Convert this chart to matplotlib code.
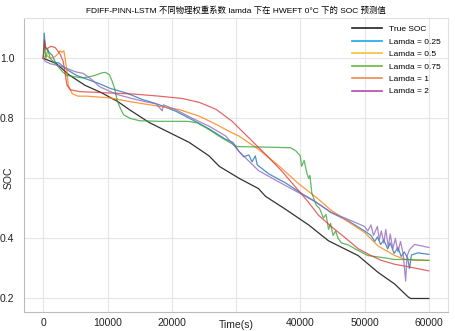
import matplotlib
matplotlib.use("Agg")
import matplotlib.pyplot as plt
from matplotlib.lines import Line2D

plt.rcParams['font.family'] = ['Liberation Sans', 'Noto Sans CJK SC', 'DejaVu Sans']

# data
true_x = [0, 2000, 4000, 6500, 9000, 11600, 13400, 16500, 19600, 22700, 25800, 27400,
          30500, 33500, 34600, 37500, 41300, 44400, 45900, 49000, 52100, 54700, 56800,
          57200, 60000]
true_y = [1.0, 0.983, 0.945, 0.91, 0.886, 0.856, 0.829, 0.786, 0.753, 0.72, 0.675, 0.64,
          0.6, 0.566, 0.54, 0.5, 0.445, 0.392, 0.376, 0.343, 0.287, 0.248, 0.205,
          0.2, 0.2]

l025_x = [0, 150, 300, 600, 900, 1400, 1900, 2400, 3700, 5200, 6200, 8800, 10400, 13000,
          15500, 16500, 18100, 20700, 23200, 25800, 28400, 29500, 30450, 31200, 32000,
          32500, 33000, 33300, 35100, 37700, 40200, 42300, 44800, 47500, 50000, 51000,
          51600, 52000, 52500, 53000, 53600, 54000, 54600, 55200, 55700, 56200, 56700,
          57000, 57300, 58300, 60000]
l025_y = [1.0, 1.084, 1.04, 1.03, 1.02, 1.01, 0.986, 0.985, 0.962, 0.943, 0.935, 0.915,
          0.9, 0.884, 0.862, 0.856, 0.845, 0.823, 0.795, 0.765, 0.73, 0.72, 0.69, 0.672,
          0.678, 0.655, 0.675, 0.645, 0.615, 0.585, 0.55, 0.523, 0.486, 0.458, 0.425, 0.41,
          0.39, 0.405, 0.38, 0.395, 0.365, 0.385, 0.35, 0.37, 0.34, 0.355, 0.335,
          0.30, 0.345, 0.352, 0.347]

l05_x = [0, 500, 1080, 1800, 2300, 2600, 2900, 3200, 3400, 3700, 3900, 4500, 5400, 6800,
         10400, 13400, 16000, 18100, 21200, 24300, 26900, 28900, 30450, 33500, 36600,
         39700, 42300, 44800, 47500, 50000, 52100, 54700, 56300, 58000, 60000]
l05_y = [1.0, 1.01, 1.0, 1.005, 1.015, 1.025, 1.02, 1.025, 1.0, 0.953, 0.91, 0.882, 0.874,
         0.874, 0.868, 0.856, 0.847, 0.84, 0.829, 0.807, 0.78, 0.757, 0.741, 0.697, 0.643,
         0.583, 0.54, 0.494, 0.455, 0.42, 0.375, 0.343, 0.33, 0.327, 0.327]

l075_x = [0, 200, 400, 700, 1080, 2000, 3000, 3700, 5000, 6200, 7500, 8300, 9200, 9700,
          10300, 10700, 11100, 11500, 11900, 12500, 13500, 15000, 18000, 22500, 24000,
          26000, 27400, 29000, 30200, 35000, 38500, 39300, 40000, 40200, 40600, 41000,
          41300, 41500, 41800, 42500, 43000, 43600, 44000, 44400, 44700, 45100, 45500,
          45900, 46400, 47400, 49000, 50500, 52600, 54700, 56700, 60000]
l075_y = [1.0, 1.05, 1.0, 1.03, 1.0, 0.98, 0.955, 0.943, 0.938, 0.935, 0.94, 0.945, 0.952,
          0.953, 0.945, 0.925, 0.9, 0.86, 0.838, 0.812, 0.8, 0.792, 0.79, 0.79, 0.785,
          0.76, 0.74, 0.72, 0.706, 0.704, 0.702, 0.692, 0.675, 0.64, 0.66, 0.62,
          0.6, 0.61, 0.55, 0.51, 0.5, 0.468, 0.48, 0.43, 0.45, 0.41, 0.425,
          0.4, 0.385, 0.379, 0.36, 0.343, 0.337, 0.33, 0.33, 0.327]

l1_x = [0, 200, 400, 800, 1200, 1850, 2600, 3100, 3400, 3700, 4200, 5700, 8800, 14000,
        18000, 21700, 24300, 26900, 29400, 32000, 34600, 37100, 39700, 41300, 42800, 44800,
        47000, 49000, 51000, 52600, 54700, 57200, 60000]
l1_y = [1.0, 1.06, 1.03, 1.035, 1.04, 1.036, 1.015, 0.99, 0.95, 0.91, 0.895, 0.889, 0.886,
        0.881, 0.874, 0.866, 0.853, 0.83, 0.79, 0.735, 0.68, 0.625, 0.56, 0.52, 0.478, 0.44,
        0.402, 0.366, 0.343, 0.327, 0.314, 0.304, 0.292]

l2_x = [0, 300, 1080, 2500, 3700, 5000, 6200, 7500, 8800, 11400, 14000, 16000, 17600, 18500,
        18700, 20700, 23200, 25800, 28400, 30450, 33500, 36600, 39700, 42300, 44800, 47500,
        50000, 50500, 51000, 51400, 52000, 52300, 52600, 53000, 53300, 53700, 54000, 54400,
        54800, 55200, 55600, 56000, 56400, 56600, 57000, 57800, 60000]
l2_y = [1.0, 0.99, 0.982, 0.975, 0.966, 0.955, 0.95, 0.93, 0.905, 0.88, 0.865, 0.855, 0.848,
        0.825, 0.845, 0.828, 0.8, 0.774, 0.741, 0.69, 0.626, 0.589, 0.553, 0.523, 0.487,
        0.463, 0.44, 0.425, 0.445, 0.41, 0.44, 0.395, 0.425, 0.385, 0.43, 0.37, 0.415, 0.365,
        0.40, 0.355, 0.39, 0.35, 0.258, 0.34, 0.363, 0.38, 0.37]

labels = ['True SOC', 'Lamda = 0.25', 'Lamda = 0.5', 'Lamda = 0.75', 'Lamda = 1', 'Lamda = 2']
legend_colors = ['#222222', '#1aa7e8', '#f7c137', '#6cb544', '#f28a4f', '#b548b0']
xticks = [0, 10000, 20000, 30000, 40000, 50000, 60000]
xticklabels = ['0', '10000', '20000', '', '40000', '50000', '60000']
yticks = [0.2, 0.4, 0.6, 0.8, 1.0]
yticklabels = ['0.2', '0.4', '', '0.8', '1.0']

fig = plt.figure(figsize=(4.56, 3.31), dpi=100)
ax = fig.add_axes([0.0526, 0.0574, 0.93, 0.888])

ax.plot(true_x, true_y, color='#333333', lw=0.9)
ax.plot(l025_x, l025_y, color='tab:blue', lw=0.9, alpha=0.8)
ax.plot(l05_x, l05_y, color='tab:orange', lw=0.9, alpha=0.8)
ax.plot(l075_x, l075_y, color='tab:green', lw=0.9, alpha=0.75)
ax.plot(l1_x, l1_y, color='tab:red', lw=0.9, alpha=0.7)
ax.plot(l2_x, l2_y, color='tab:purple', lw=0.9, alpha=0.8)

ax.set_xlim(-3000, 63000)
ax.set_ylim(0.155, 1.134)
ax.set_xticks(xticks)
ax.set_xticklabels(xticklabels)
ax.set_yticks(yticks)
ax.set_yticklabels(yticklabels)
ax.tick_params(length=0, labelsize=7.5, colors='#222222')
ax.tick_params(axis='y', pad=7)
ax.tick_params(axis='x', pad=4)
ax.grid(True, color='#e6e6e6', lw=0.8)
ax.set_axisbelow(True)
for s in ('top', 'right'):
    ax.spines[s].set_color('#e0e0e0')
for s in ('left', 'bottom'):
    ax.spines[s].set_color('#bbbbbb')

ax.set_xlabel('Time(s)', fontsize=7.5, color='#222222')
ax.xaxis.set_label_coords(0.5, -0.028)
ax.set_ylabel('SOC', fontsize=7.5, color='#222222')
ax.yaxis.set_label_coords(-0.024, 0.456)
ax.set_title('FDIFF-PINN-LSTM 不同物理权重系数 lamda 下在 HWEFT 0°C 下的 SOC 预测值',
             fontsize=6, pad=4)

handles = [Line2D([], [], color=c, lw=1.2) for c in legend_colors]
ax.legend(handles, labels, loc='upper right', frameon=False, fontsize=6,
          handlelength=3.6, handletextpad=0.8, labelspacing=0.55,
          bbox_to_anchor=(1.0, 1.0))

fig.savefig('out.png', dpi=100)
